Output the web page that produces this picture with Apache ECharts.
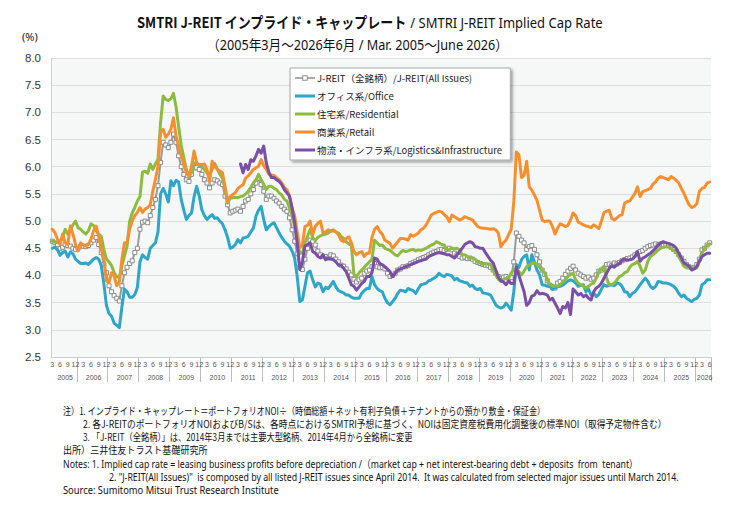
<!DOCTYPE html>
<html><head><meta charset="utf-8">
<script src="https://cdn.jsdelivr.net/npm/echarts@6/dist/echarts.min.js"></script>
<style>html,body{margin:0;padding:0;background:#fff}#c{width:748px;height:528px}</style>
</head><body><div id="c"></div>
<script>
// ---------- DATA ----------
const firstYear = 2005, firstMonth = 3, monthCount = 256;   // Mar 2005 .. Jun 2026
const categories = [];
for (let k = 0; k < monthCount; k++) {
  const m0 = firstMonth - 1 + k;
  const y = firstYear + Math.floor(m0 / 12), m = m0 % 12 + 1;
  categories.push(y + '-' + (m < 10 ? '0' : '') + m);
}
const yTicks = [2.5, 3.0, 3.5, 4.0, 4.5, 5.0, 5.5, 6.0, 6.5, 7.0, 7.5, 8.0];

const allIssues = [
4.63,4.60,4.57,4.50,4.52,4.57,4.55,4.54,4.50,4.48,
4.50,4.54,4.54,4.53,4.55,4.60,4.65,4.70,4.57,4.42,4.20,4.05,
3.81,3.70,3.63,3.58,3.53,3.81,4.05,4.15,4.22,4.27,4.42,4.50,
4.85,4.98,5.00,4.97,5.10,5.25,5.40,5.65,6.08,6.45,6.40,6.35,
6.45,6.60,6.45,6.20,6.00,5.86,5.76,5.73,5.86,5.98,5.98,5.95,
5.86,5.76,5.70,5.61,5.70,5.76,5.74,5.70,5.67,5.46,5.30,5.15,
5.18,5.20,5.22,5.18,5.27,5.37,5.40,5.50,5.58,5.70,5.79,5.67,
5.55,5.40,5.46,5.46,5.42,5.37,5.33,5.27,5.22,5.18,5.06,4.84,
4.63,4.40,4.15,4.11,4.30,4.50,4.65,4.62,4.56,4.45,4.38,4.35,
4.35,4.32,4.38,4.36,4.30,4.25,4.19,4.17,4.12,4.06,4.01,3.93,
3.88,3.92,3.95,4.04,4.08,4.10,4.16,4.22,4.16,4.14,4.15,4.12,
4.04,3.98,4.00,4.04,4.10,4.12,4.16,4.16,4.18,4.22,4.24,4.26,
4.29,4.31,4.33,4.35,4.38,4.41,4.43,4.44,4.47,4.48,4.46,4.48,
4.50,4.47,4.41,4.38,4.35,4.32,4.34,4.31,4.32,4.30,4.26,4.24,
4.22,4.20,4.19,4.18,4.15,4.10,4.04,3.98,3.95,3.97,3.98,3.95,
3.96,4.25,4.78,4.72,4.65,4.60,4.48,4.53,4.55,4.48,4.38,4.25,
4.10,4.02,3.90,3.82,3.78,3.77,3.86,3.89,3.95,4.02,4.08,4.13,
4.17,4.10,4.04,4.01,3.98,3.95,3.97,3.93,3.95,4.01,4.08,4.10,
4.13,4.20,4.21,4.18,4.23,4.21,4.24,4.27,4.29,4.31,4.32,4.34,
4.38,4.41,4.44,4.46,4.50,4.53,4.55,4.56,4.58,4.56,4.58,4.56,
4.57,4.56,4.52,4.48,4.44,4.38,4.32,4.26,4.20,4.16,4.14,4.15,
4.20,4.30,4.47,4.50,4.56,4.60];

const office = [
4.50,4.52,4.47,4.37,4.42,4.45,4.34,4.43,4.40,4.30,
4.26,4.22,4.22,4.23,4.20,4.25,4.30,4.33,4.30,4.18,3.85,3.45,
3.30,3.25,3.12,3.08,3.04,3.42,3.75,3.70,3.60,3.60,3.65,3.78,
4.25,4.38,4.33,4.30,4.50,4.55,4.60,4.80,5.50,5.60,5.50,5.35,
5.74,5.65,5.75,5.72,5.40,5.20,5.03,5.10,5.15,5.45,5.64,5.46,
5.21,5.10,5.03,5.08,5.12,5.05,5.06,5.00,4.95,4.84,4.70,4.50,
4.52,4.57,4.66,4.60,4.69,4.70,4.72,4.80,4.87,5.09,5.20,5.27,
5.03,4.84,4.90,4.94,4.97,4.88,4.78,4.70,4.63,4.58,4.54,4.45,
4.32,3.98,3.52,3.55,3.80,4.05,4.08,3.92,3.79,3.86,3.84,3.70,
3.78,3.76,3.82,3.89,3.79,3.72,3.70,3.68,3.64,3.64,3.60,3.58,
3.58,3.58,3.67,3.72,3.76,3.76,3.98,3.83,3.76,3.72,3.70,3.58,
3.50,3.46,3.52,3.58,3.67,3.73,3.72,3.70,3.76,3.74,3.72,3.67,
3.76,3.83,3.84,3.86,3.90,3.92,3.95,3.98,4.04,4.00,3.98,4.02,
4.01,3.99,3.92,3.95,3.90,3.89,3.87,3.86,3.80,3.82,3.76,3.74,
3.76,3.68,3.67,3.66,3.64,3.55,3.46,3.42,3.40,3.42,3.49,3.43,
3.36,3.70,4.20,4.15,4.29,4.35,4.38,4.10,4.38,4.25,4.10,4.01,
3.83,3.82,3.80,3.80,3.74,3.77,3.79,3.80,3.82,3.86,3.90,3.92,
3.90,3.86,3.80,3.82,3.83,3.70,3.75,3.64,3.68,3.61,3.65,3.75,
3.83,3.80,3.82,3.83,3.81,3.86,3.85,3.80,3.70,3.69,3.61,3.67,
3.70,3.76,3.83,3.89,3.95,3.89,3.80,3.76,3.80,3.89,3.88,3.86,
3.86,3.85,3.83,3.80,3.75,3.67,3.61,3.64,3.58,3.55,3.52,3.56,
3.58,3.64,3.83,3.86,3.92,3.92];

const residential = [
4.63,4.61,4.60,4.62,4.70,4.85,4.76,4.85,4.93,5.00,
4.88,4.85,4.80,4.76,4.82,4.95,4.92,4.82,4.76,4.72,4.48,4.30,
4.25,4.18,4.05,3.98,3.96,4.17,4.36,4.54,5.00,5.15,5.25,5.37,
5.45,5.90,5.92,5.88,6.05,5.95,6.05,6.14,6.81,7.30,7.24,7.22,
7.25,7.35,7.10,6.74,6.40,6.17,5.95,5.82,5.89,6.07,6.06,6.04,
6.00,5.95,5.89,5.83,5.95,6.06,5.96,5.86,5.79,5.58,5.33,5.42,
5.43,5.44,5.43,5.45,5.46,5.50,5.55,5.62,5.70,5.76,5.86,5.76,
5.68,5.58,5.64,5.64,5.60,5.58,5.52,5.48,5.40,5.37,5.24,5.09,
4.90,4.65,4.40,4.42,4.60,4.72,4.85,4.70,4.64,4.70,4.73,4.75,
4.76,4.78,4.82,4.84,4.80,4.78,4.72,4.68,4.62,4.58,4.56,4.02,
3.98,4.05,4.10,4.15,4.20,4.25,4.30,4.65,4.60,4.55,4.56,4.50,
4.48,4.46,4.42,4.38,4.36,4.42,4.46,4.44,4.45,4.47,4.48,4.45,
4.47,4.46,4.48,4.50,4.53,4.56,4.58,4.62,4.60,4.57,4.56,4.47,
4.48,4.50,4.49,4.50,4.47,4.38,4.38,4.35,4.32,4.32,4.30,4.24,
4.23,4.20,4.22,4.21,4.20,4.10,4.01,3.93,3.89,3.92,3.95,3.94,
4.05,4.10,4.13,4.07,4.01,4.08,4.16,4.20,4.22,4.23,4.20,4.15,
4.10,4.05,3.92,3.83,3.82,3.80,3.80,3.83,3.88,3.92,3.98,4.02,
4.04,3.92,3.86,3.83,3.80,3.77,3.80,3.84,3.86,3.95,4.07,4.12,
4.17,3.95,3.83,3.83,3.86,3.92,3.98,4.00,4.05,4.07,4.15,4.20,
4.22,4.26,4.17,4.04,4.10,4.26,4.35,4.38,4.42,4.47,4.50,4.52,
4.53,4.53,4.50,4.46,4.44,4.35,4.26,4.17,4.14,4.14,4.14,4.14,
4.14,4.26,4.41,4.50,4.56,4.58];

const retail = [
4.85,4.79,4.67,4.57,4.76,4.60,4.57,4.91,4.76,4.57,
4.45,4.60,4.56,4.54,4.57,4.67,4.82,4.91,4.73,4.48,4.30,3.90,
3.87,4.05,3.99,3.81,3.88,4.30,4.60,4.60,4.85,5.00,5.10,5.16,
5.25,5.16,5.22,5.25,5.30,5.55,5.77,6.00,6.63,6.69,6.54,6.60,
6.69,6.90,6.57,6.38,6.20,6.05,5.89,5.83,6.01,6.29,6.07,6.04,
6.04,6.05,5.95,5.73,6.10,6.01,5.95,5.92,5.89,5.64,5.37,5.45,
5.49,5.52,5.60,5.64,5.67,5.79,5.83,5.89,5.95,5.98,6.01,6.13,
6.02,5.95,5.86,5.85,5.84,5.80,5.76,5.70,5.62,5.58,5.46,5.24,
5.10,4.80,4.52,4.55,4.90,4.92,5.00,4.75,4.90,4.96,5.00,4.78,
4.80,4.84,4.81,4.82,4.80,4.75,4.65,4.62,4.68,4.71,4.60,4.44,
4.38,4.42,4.44,4.35,4.41,4.41,4.70,4.85,4.90,4.81,4.76,4.65,
4.62,4.59,4.50,4.56,4.62,4.68,4.68,4.67,4.65,4.75,4.72,4.75,
4.78,4.84,4.87,4.93,5.02,5.11,5.14,5.16,5.18,5.17,5.12,5.08,
4.99,5.11,5.08,5.05,5.02,5.04,5.08,5.06,5.04,5.02,4.96,4.90,
4.88,4.87,4.87,4.86,4.85,4.86,4.84,4.78,4.53,4.60,4.65,4.75,
4.85,5.35,6.27,6.22,5.80,5.84,6.10,5.63,5.57,5.48,5.38,5.20,
5.02,4.99,5.00,5.00,4.90,4.76,4.87,4.95,4.93,4.90,4.92,5.02,
5.15,5.10,4.98,4.96,4.93,4.91,4.90,4.88,4.93,4.90,4.86,5.00,
5.16,5.18,5.20,5.05,5.02,5.06,5.10,5.12,5.33,5.36,5.37,5.44,
5.51,5.63,5.45,5.54,5.56,5.58,5.60,5.68,5.72,5.79,5.82,5.80,
5.78,5.76,5.82,5.79,5.75,5.70,5.60,5.51,5.40,5.30,5.25,5.27,
5.32,5.55,5.60,5.62,5.70,5.72];

const logisticsStart = '2011-04';
const logistics = [
6.05,5.89,6.04,5.95,6.13,6.10,6.20,6.32,6.25,
6.38,6.07,5.90,5.80,5.80,5.76,5.73,5.67,5.58,5.52,5.46,5.24,
4.97,4.60,4.11,4.25,4.54,4.57,4.60,4.44,4.41,4.35,4.32,4.38,
4.29,4.32,4.30,4.29,4.25,4.19,4.19,4.13,4.07,3.95,3.83,3.80,
3.73,3.79,3.85,3.89,3.98,3.98,4.05,4.32,4.30,4.22,4.20,4.16,
4.12,4.07,3.98,4.04,4.10,4.12,4.14,4.16,4.18,4.20,4.22,4.24,
4.26,4.27,4.29,4.30,4.35,4.37,4.39,4.41,4.42,4.41,4.40,4.38,
4.38,4.35,4.32,4.38,4.44,4.50,4.57,4.60,4.62,4.60,4.53,4.52,
4.50,4.50,4.42,4.35,4.28,4.23,4.10,3.97,3.90,3.88,3.83,3.90,
3.85,3.85,4.15,4.00,3.85,3.70,3.45,3.50,3.62,3.64,3.72,3.66,
3.67,3.66,3.64,3.55,3.58,3.49,3.40,3.30,3.43,3.40,3.50,3.28,
3.75,3.70,3.64,3.67,3.61,3.64,3.58,3.55,3.70,3.77,3.80,3.86,
3.95,4.04,4.13,4.18,4.15,4.20,4.22,4.28,4.30,4.28,4.29,4.30,
4.35,4.44,4.26,4.32,4.34,4.38,4.41,4.45,4.50,4.56,4.60,4.62,
4.60,4.59,4.57,4.55,4.50,4.41,4.32,4.23,4.20,4.17,4.10,4.12,
4.17,4.26,4.35,4.38,4.41,4.41];

const seriesNames = [
  'J-REIT（全銘柄）/J-REIT(All Issues)',
  'オフィス系/Office',
  '住宅系/Residential',
  '商業系/Retail',
  '物流・インフラ系/Logistics&Infrastructure'
];

// ---------- LAYOUT / STYLE ----------
const JP = '"Noto Sans CJK JP"';
const EN = '"Noto Sans", "Noto Sans CJK JP"';
const colors = ['#9a9a9a', '#2ea6c7', '#8dbb40', '#f78f2e', '#7a4fa5'];
const monthOf = i => parseInt(categories[i].slice(5), 10);
const yearOf = i => categories[i].slice(0, 4);

const measureCtx = document.createElement('canvas').getContext('2d');
function textW(font, t) { measureCtx.font = font; return measureCtx.measureText(t).width; }

const graphics = [];
(function () {
  const p1 = 'SMTRI J-REIT インプライド・キャップレート', p2 = ' / SMTRI J-REIT Implied Cap Rate';
  const f1 = 'bold 15px ' + JP, f2 = '15px ' + EN;
  const w = textW(f1, p1) + textW(f2, p2);
  graphics.push({ type: 'text', x: 137, y: 22, scaleX: 466 / w, silent: true,
    style: { text: '{b|' + p1 + '}{n|' + p2 + '}', verticalAlign: 'middle', align: 'left', fill: '#111',
      rich: { b: { fontWeight: 'bold', fontSize: 15, fontFamily: JP, fill: '#111' },
              n: { fontSize: 15, fontFamily: EN, fill: '#111' } } } });
})();
function fitText(t, x, y, right, font, fill) {
  const w = textW(font, t);
  graphics.push({ type: 'text', x: x, y: y, scaleX: (right - x) / w, silent: true,
    style: { text: t, font: font, fill: fill || '#111', align: 'left', verticalAlign: 'middle' } });
}
fitText('（2005年3月～2026年6月 / Mar. 2005～June 2026）', 207, 45, 508, '14px ' + EN);
graphics.push({ type: 'text', x: 22, y: 36, silent: true,
  style: { text: '(%)', font: '11px ' + EN, fill: '#222', verticalAlign: 'middle' } });

const notes = [
  ['注）1. インプライド・キャップレート＝ポートフォリオNOI÷（時価総額＋ネット有利子負債＋テナントからの預かり敷金・保証金）', 63, 411, 546, 'jp'],
  ['2. 各J-REITのポートフォリオNOIおよびB/Sは、各時点におけるSMTRI予想に基づく、NOIは固定資産税費用化調整後の標準NOI（取得予定物件含む）', 83, 424, 667, 'jp'],
  ['3. 「J-REIT（全銘柄）」は、2014年3月までは主要大型銘柄、2014年4月から全銘柄に変更', 83, 437, 413, 'jp'],
  ['出所）三井住友トラスト基礎研究所', 63, 450, 208, 'jp'],
  ['Notes: 1. Implied cap rate = leasing business profits before depreciation /（market cap + net interest-bearing debt + deposits  from  tenant）', 63, 464, 639, 'en'],
  ['2. "J-REIT(All Issues)"  is composed by all listed J-REIT issues since April 2014.  It was calculated from selected major issues until March 2014.', 109, 477, 680, 'en'],
  ['Source: Sumitomo Mitsui Trust Research Institute', 63, 490, 279, 'en']
];
notes.forEach(n => fitText(n[0], n[1], n[2], n[3], n[4] === 'jp' ? '10px ' + JP : '10.5px ' + EN));

// legend icons (20 x 10 box): thick line; for All Issues a thin line with a hollow square
const BOX = 'M0,0 L0,0 Z M20,10 L20,10 Z ';
const iconThick = 'path://' + BOX + 'M0,3.6 H20 V6.4 H0 Z';
const iconMarker = 'path://' + BOX +
  'M0,4.2 H7.2 V5.8 H0 Z M12.8,4.2 H20 V5.8 H12.8 Z ' +
  'M7.2,2.2 H12.8 V3.2 H7.2 Z M7.2,6.8 H12.8 V7.8 H7.2 Z M7.2,2.2 H8.2 V7.8 H7.2 Z M11.8,2.2 H12.8 V7.8 H11.8 Z';
const legendData = seriesNames.map((n, s) => ({
  name: n, icon: s === 0 ? iconMarker : iconThick,
  itemStyle: { color: s === 0 ? '#8f8f8f' : colors[s], borderWidth: 0 }
}));

const logOffset = categories.indexOf(logisticsStart);
const seriesData = [
  allIssues, office, residential, retail,
  logistics.map((v, k) => [categories[k + logOffset], v])
];

const series = seriesData.map((d, s) => {
  const base = {
    name: seriesNames[s], type: 'line', data: d, z: 2 + s,
    lineStyle: { color: colors[s], width: s === 0 ? 2 : 3, cap: 'round', join: 'round' },
    itemStyle: { color: colors[s] },
    symbol: 'none', showSymbol: false, animation: false
  };
  if (s === 0) {
    base.symbol = 'rect'; base.symbolSize = 4; base.showSymbol = true; base.showAllSymbol = true;
    base.itemStyle = { color: '#ffffff', borderColor: '#8a8a8a', borderWidth: 1 };
  }
  return base;
});

const chart = echarts.init(document.getElementById('c'), null, { renderer: 'svg' });
chart.setOption({
  animation: false,
  backgroundColor: '#ffffff',
  grid: { left: 51, right: 37, top: 58, bottom: 171, show: true, backgroundColor: '#f6f8f8',
          borderWidth: 0, outerBoundsMode: 'none' },
  legend: {
    data: legendData, orient: 'vertical', left: 290, top: 68,
    padding: [5, 8, 5, 5], itemGap: 8, itemWidth: 20, itemHeight: 10, symbolKeepAspect: false,
    backgroundColor: '#ffffff', borderColor: '#a8a8a8', borderWidth: 1,
    shadowBlur: 3, shadowColor: 'rgba(0,0,0,0.35)', shadowOffsetX: 2, shadowOffsetY: 2,
    textStyle: { fontSize: 9.5, fontFamily: JP, color: '#222', padding: [0, 0, 0, -3] },
    selectedMode: false
  },
  xAxis: [
    { type: 'category', data: categories, boundaryGap: true, position: 'bottom',
      axisLine: { show: true, lineStyle: { color: '#cfcfcf', width: 1 } },
      axisTick: { show: true, interval: (i) => i === 0 ? false : monthOf(i) === 1, length: 25,
                  lineStyle: { color: '#bdbdbd', width: 1 } },
      axisLabel: { interval: (i) => monthOf(i) % 3 === 0, formatter: v => String(parseInt(v.slice(5), 10)),
                   fontSize: 7, color: '#555', margin: 4, fontFamily: 'Liberation Sans' },
      splitLine: { show: false } },
    { type: 'category', data: categories, boundaryGap: true, position: 'bottom', gridIndex: 0,
      axisLine: { show: false }, axisTick: { show: false }, splitLine: { show: false },
      axisLabel: { interval: (i) => {
          const y = yearOf(i), m = monthOf(i);
          if (y === '2005') return m === 8;
          if (y === '2026') return m === 4;
          return m === 7;
        }, formatter: v => v.slice(0, 4), fontSize: 7, color: '#555', margin: 17, fontFamily: 'Liberation Sans' } }
  ],
  yAxis: {
    type: 'value', min: yTicks[0], max: yTicks[yTicks.length - 1], interval: 0.5,
    axisLine: { show: true, lineStyle: { color: '#cfcfcf' } }, axisTick: { show: false },
    axisLabel: { formatter: v => v.toFixed(1), fontSize: 11.5, color: '#333', margin: 10, fontFamily: 'Liberation Sans' },
    splitLine: { show: true, lineStyle: { color: '#dedede', width: 1 } }
  },
  series: series,
  graphic: graphics
});
</script></body></html>
